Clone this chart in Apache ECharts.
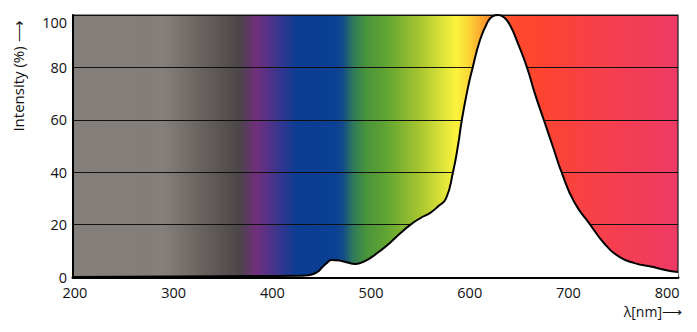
<!DOCTYPE html>
<html>
<head>
<meta charset="utf-8">
<script src="https://cdn.jsdelivr.net/npm/echarts@6/dist/echarts.min.js"></script>
<style>html,body{margin:0;padding:0;background:#fff}#c{width:697px;height:332px}</style>
</head>
<body>
<div id="c"></div>
<script>
// Wavelength (nm) and relative intensity (%)
var wavelength = [198, 352, 428, 438, 446, 450, 455, 460, 468, 476, 484, 489, 496, 504, 509, 519, 529, 540, 550, 560, 568, 576, 583, 588, 592, 598, 603, 610, 617, 623, 629, 635, 641, 649, 658, 666, 675, 684, 693, 706, 722, 737, 752, 767, 786, 798, 811];
var intensity  = [0, 0.3, 0.5, 0.8, 2, 3.5, 5.3, 6.5, 6.3, 5.5, 5.0, 5.3, 6.5, 8.5, 9.9, 13, 16.5, 20, 22.5, 24.5, 27, 30, 40, 50, 60, 72, 80, 90, 96.5, 99.5, 100, 99, 96, 89, 80, 70, 60, 50, 40, 28.5, 20, 12.5, 7.6, 5.3, 3.8, 2.7, 1.9];
var xTicks = [200, 300, 400, 500, 600, 700, 800];
var yTicks = [0, 20, 40, 60, 80, 100];

var spectrumStops = [
  [0.000, '#857f7b'], [0.127, '#847e7a'], [0.150, '#86807c'], [0.175, '#7a7471'],
  [0.210, '#6a6461'], [0.255, '#554f4e'], [0.274, '#4c4647'], [0.289, '#5e3a63'],
  [0.302, '#712f7c'], [0.320, '#5a3288'], [0.345, '#30378f'], [0.370, '#0d3d94'],
  [0.432, '#0a4093'], [0.446, '#134a8a'], [0.463, '#2f7a5c'], [0.485, '#4a953a'],
  [0.520, '#62a632'], [0.572, '#a6c530'], [0.613, '#e0e53a'], [0.634, '#fbf23c'],
  [0.654, '#fbd636'], [0.674, '#fca92f'], [0.704, '#fd6a2a'], [0.730, '#fd4a2c'],
  [0.772, '#fd4430'], [0.871, '#f6404a'], [1.000, '#ef3a66']
];

var points = wavelength.map(function (w, i) { return [w, intensity[i]]; });
var font = '"Open Sans", "Noto Sans", sans-serif';

var chart = echarts.init(document.getElementById('c'), null, {renderer: 'svg'});
chart.setOption({
  animation: false,
  grid: {
    left: 73, top: 15, right: 19, bottom: 55,
    containLabel: false, outerBoundsMode: 'none',
    show: true,
    borderColor: '#222', borderWidth: 1.2,
    backgroundColor: new echarts.graphic.LinearGradient(0, 0, 1, 0,
      spectrumStops.map(function (s) { return {offset: s[0], color: s[1]}; }))
  },
  xAxis: {
    type: 'value', min: 198, max: 811,
    name: 'λ[nm]⟶', nameLocation: 'end', nameGap: 4,
    nameTextStyle: {align: 'right', verticalAlign: 'top', padding: [27, 0, 0, 0], fontSize: 14, color: '#111', fontFamily: font},
    axisLine: {show: true, onZero: false, lineStyle: {color: '#000', width: 3}},
    axisTick: {show: false},
    splitLine: {show: false},
    axisLabel: {customValues: xTicks, margin: 8, fontSize: 14.5, color: '#111', fontFamily: font}
  },
  yAxis: {
    type: 'value', min: 0, max: 100, interval: 20,
    name: 'Intensity (%) ⟶', nameLocation: 'middle', nameRotate: 90, nameGap: 48,
    nameTextStyle: {fontSize: 15, color: '#111', fontFamily: font, padding: [0, 0, 0, 140]},
    axisLine: {show: true, lineStyle: {color: '#000', width: 2}},
    axisTick: {show: false},
    splitLine: {show: true, lineStyle: {color: '#111', width: 1}},
    axisLabel: {customValues: yTicks, margin: 6, fontSize: 14.5, color: '#111', fontFamily: font, verticalAlignMaxLabel: 'top'}
  },
  series: [{
    type: 'line',
    data: points,
    smooth: 0.5,
    symbol: 'none',
    lineStyle: {color: '#000', width: 2},
    areaStyle: {color: '#fff', opacity: 1},
    z: 3
  }]
});
</script>
</body>
</html>
